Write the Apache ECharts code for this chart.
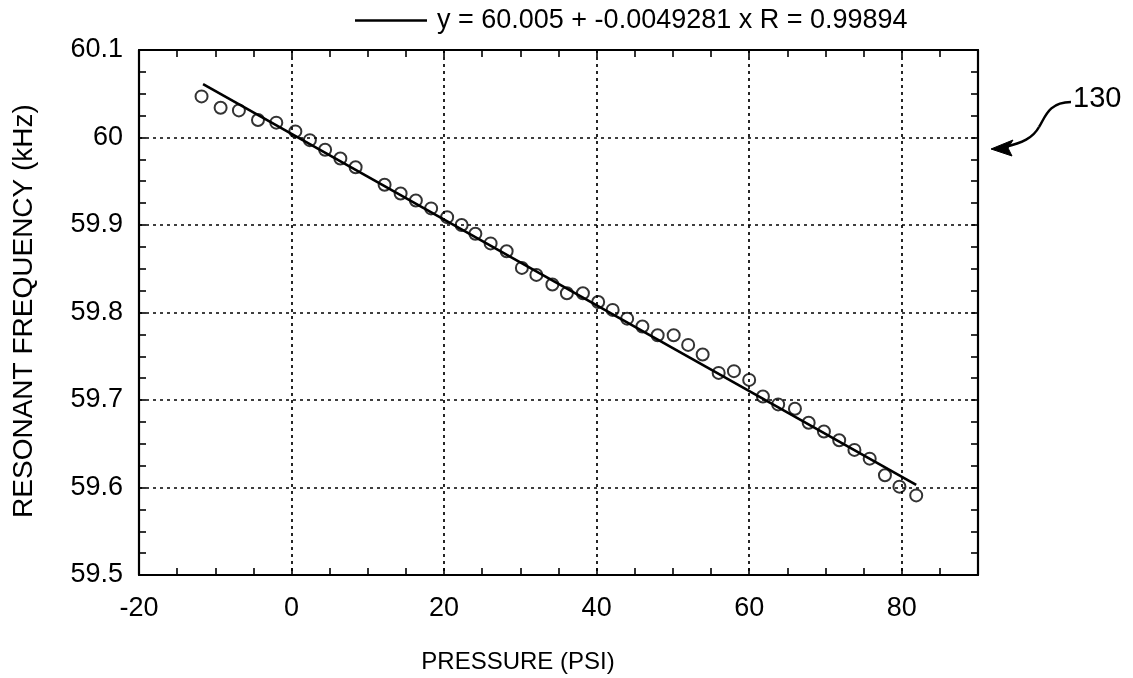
<!DOCTYPE html>
<html>
<head>
<meta charset="utf-8">
<script src="https://cdn.jsdelivr.net/npm/echarts@6/dist/echarts.min.js"></script>
<style>
html,body{margin:0;padding:0;background:#fff;}
#chart{width:1133px;height:678px;}
</style>
</head>
<body>
<div id="chart"></div>
<script>
// ---- data ----
const pressure = [-11.8, -9.3, -6.9, -4.4, -2.0, 0.5, 2.4, 4.4, 6.4, 8.4,
  12.2, 14.3, 16.3, 18.3, 20.4, 22.3, 24.1, 26.1, 28.2, 30.2,
  32.1, 34.2, 36.1, 38.2, 40.2, 42.1, 44.0, 46.0, 48.0, 50.1,
  52.0, 53.9, 56.0, 58.0, 60.0, 61.8, 63.8, 66.0, 67.8, 69.8,
  71.8, 73.8, 75.8, 77.8, 79.7, 81.9];
const frequency = [60.047, 60.034, 60.031, 60.020, 60.017, 60.007, 59.997, 59.986, 59.976, 59.966,
  59.946, 59.936, 59.928, 59.919, 59.909, 59.900, 59.890, 59.879, 59.870, 59.851,
  59.843, 59.832, 59.822, 59.822, 59.812, 59.803, 59.793, 59.784, 59.774, 59.774,
  59.763, 59.752, 59.731, 59.733, 59.723, 59.704, 59.695, 59.690, 59.674, 59.664,
  59.654, 59.643, 59.633, 59.614, 59.601, 59.591];
const fitX = [-11.6, 81.9];
const fitY = [60.061, 59.603];
const fitLabel = 'y = 60.005 + -0.0049281 x R = 0.99894';
const xTickLabels = [-20, 0, 20, 40, 60, 80];
const yTickLabels = ['59.5', '59.6', '59.7', '59.8', '59.9', '60', '60.1'];
const xName = 'PRESSURE (PSI)';
const yName = 'RESONANT FREQUENCY (kHz)';
const refLabel = '130';

const FONT = '"Liberation Sans", Arial, Helvetica, sans-serif';
const scatterData = pressure.map((p, i) => [p, frequency[i]]);
const fitData = fitX.map((x, i) => [x, fitY[i]]);

const chart = echarts.init(document.getElementById('chart'), null, {renderer: 'canvas'});
const dotted = {color: '#000', width: 1.7, type: [3, 4]};
const tickStyle = {color: '#000', width: 1.6};
const frameLine = {show: true, onZero: false, lineStyle: {color: '#000', width: 2.2}};
const noLine = {show: false, onZero: false};

const xBase = {type: 'value', min: -20, max: 90, gridIndex: 0};
const yBase = {type: 'value', min: 59.5, max: 60.1, gridIndex: 0};

chart.setOption({
  animation: false,
  backgroundColor: '#fff',
  grid: {left: 139, right: 155, top: 50, bottom: 103, containLabel: false},
  legend: {
    show: true,
    data: [{name: fitLabel, icon: 'rect'}],
    left: 355, top: 7, padding: 0,
    itemWidth: 72, itemHeight: 2.5,
    textStyle: {fontFamily: FONT, fontSize: 27, color: '#000', padding: [0, 0, 0, 5]}
  },
  xAxis: [
    Object.assign({}, xBase, {
      position: 'bottom', interval: 20,
      axisLine: frameLine,
      axisTick: {show: false},
      axisLabel: {
        show: true, margin: 20, color: '#000', fontFamily: FONT, fontSize: 27,
        formatter: v => xTickLabels.some(t => Math.abs(t - v) < 1e-6) ? String(Math.round(v)) : ''
      },
      splitLine: {show: true, lineStyle: dotted}
    }),
    Object.assign({}, xBase, {
      position: 'bottom', interval: 5,
      axisLine: noLine,
      axisTick: {show: true, inside: true, length: 7, lineStyle: tickStyle},
      axisLabel: {show: false}, splitLine: {show: false}
    }),
    Object.assign({}, xBase, {
      position: 'top', interval: 5,
      axisLine: frameLine,
      axisTick: {show: true, inside: true, length: 7, lineStyle: tickStyle},
      axisLabel: {show: false}, splitLine: {show: false}
    })
  ],
  yAxis: [
    Object.assign({}, yBase, {
      position: 'left', interval: 0.1,
      axisLine: frameLine,
      axisTick: {show: false},
      axisLabel: {
        show: true, margin: 16, color: '#000', fontFamily: FONT, fontSize: 27,
        formatter: v => {
          const s = String(Math.round(v * 10) / 10);
          return yTickLabels.indexOf(s) >= 0 ? s : '';
        }
      },
      splitLine: {show: true, lineStyle: dotted}
    }),
    Object.assign({}, yBase, {
      position: 'left', interval: 0.025,
      axisLine: noLine,
      axisTick: {show: true, inside: true, length: 7, lineStyle: tickStyle},
      axisLabel: {show: false}, splitLine: {show: false}
    }),
    Object.assign({}, yBase, {
      position: 'right', interval: 0.025,
      axisLine: frameLine,
      axisTick: {show: true, inside: true, length: 7, lineStyle: tickStyle},
      axisLabel: {show: false}, splitLine: {show: false}
    })
  ],
  series: [
    {
      type: 'scatter', name: 'data', xAxisIndex: 0, yAxisIndex: 0,
      data: scatterData,
      symbol: 'circle', symbolSize: 12,
      itemStyle: {color: 'rgba(0,0,0,0)', borderColor: '#000', borderWidth: 2},
      z: 3
    },
    {
      type: 'line', name: fitLabel, xAxisIndex: 0, yAxisIndex: 0,
      data: fitData, showSymbol: false, symbol: 'none',
      lineStyle: {color: '#000', width: 2.6},
      itemStyle: {color: '#000'},
      z: 4
    }
  ],
  graphic: [
    {
      type: 'text', x: 518, y: 662,
      style: {text: xName, fontFamily: FONT, fontSize: 24, fill: '#000', align: 'center', verticalAlign: 'middle'}
    },
    {
      type: 'text', x: 24, y: 311, rotation: Math.PI / 2,
      style: {text: yName, fontFamily: FONT, fontSize: 28, fill: '#000', align: 'center', verticalAlign: 'middle'}
    },
    {
      type: 'text', x: 1073, y: 99,
      style: {text: refLabel, fontFamily: FONT, fontSize: 29, fill: '#000', align: 'left', verticalAlign: 'middle'}
    },
    {
      type: 'bezierCurve',
      shape: {x1: 1071, y1: 102, cpx1: 1048, cpy1: 102, cpx2: 1045, cpy2: 118, x2: 1039, y2: 127},
      style: {fill: null, stroke: '#000', lineWidth: 2.5}
    },
    {
      type: 'bezierCurve',
      shape: {x1: 1039, y1: 127, cpx1: 1033, cpy1: 138, cpx2: 1022, cpy2: 143, x2: 1005, y2: 147},
      style: {fill: null, stroke: '#000', lineWidth: 2.5}
    },
    {
      type: 'polygon',
      shape: {points: [[991, 149], [1013, 140], [1008, 148], [1012, 156]]},
      style: {fill: '#000', stroke: '#000', lineWidth: 1}
    }
  ]
});
</script>
</body>
</html>
